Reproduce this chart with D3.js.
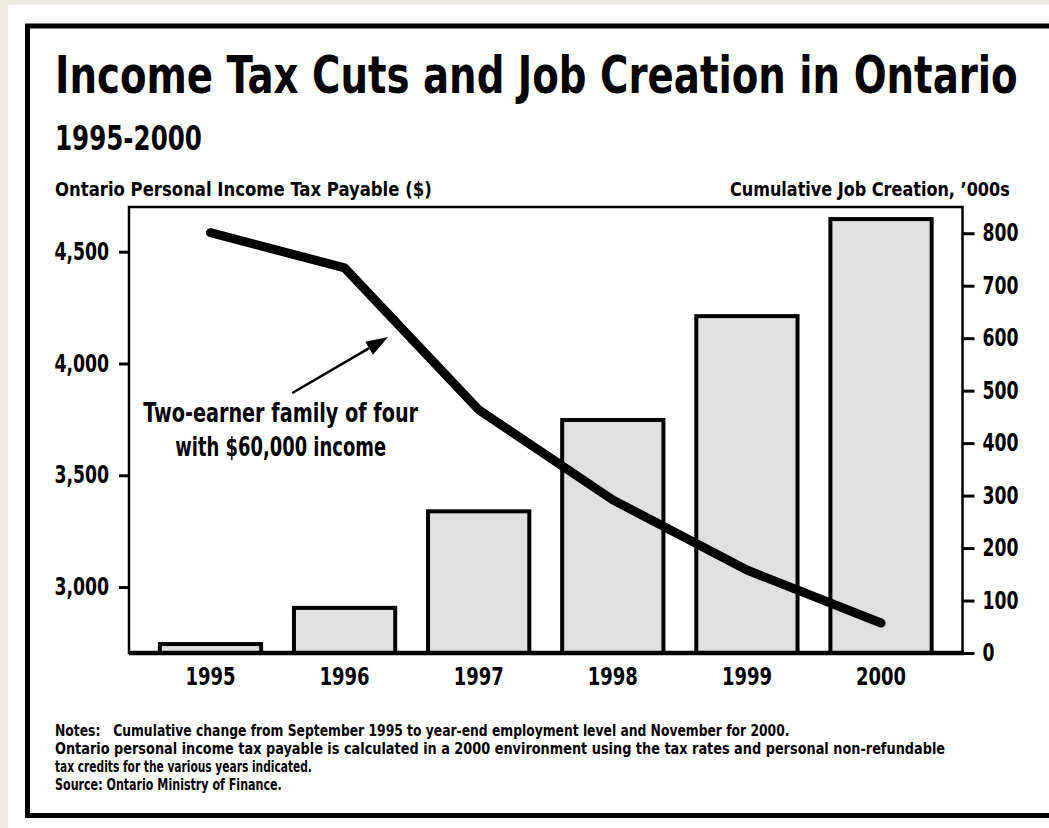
<!DOCTYPE html>
<html>
<head>
<meta charset="utf-8">
<script src="https://cdn.jsdelivr.net/npm/d3@7"></script>
<style>
  html, body { margin: 0; padding: 0; background: #ece9e0; }
  svg { display: block; }
  text { font-family: "Liberation Sans Narrow", "DejaVu Sans Condensed", "Arial Narrow", sans-serif; font-weight: bold; fill: #000; }
</style>
</head>
<body>
<svg id="chart" width="1049" height="828"></svg>
<script>
// ---- data ----
const years = ["1995", "1996", "1997", "1998", "1999", "2000"];
const jobsCreated = [17, 86, 270, 444, 642, 827];            // cumulative job creation, '000s (right axis)
const taxPayable = [4585, 4428, 3793, 3390, 3076, 2839];      // Ontario personal income tax payable, $ (left axis)
const leftTicks = [3000, 3500, 4000, 4500];
const rightTicks = [0, 100, 200, 300, 400, 500, 600, 700, 800];
const titleText = "Income Tax Cuts and Job Creation in Ontario";
const subtitleText = "1995-2000";
const leftAxisTitle = "Ontario Personal Income Tax Payable ($)";
const rightAxisTitle = "Cumulative Job Creation, \u2019000s";
const annotationLines = ["Two-earner family of four", "with $60,000 income"];
const noteLines = [
  "Notes:   Cumulative change from September 1995 to year-end employment level and November for 2000.",
  "Ontario personal income tax payable is calculated in a 2000 environment using the tax rates and personal non-refundable",
  "tax credits for the various years indicated.",
  "Source: Ontario Ministry of Finance."
];

// ---- layout ----
const svg = d3.select("#chart");
const plot = { left: 129, right: 962.5, top: 207, bottom: 653 };

// page background and frame
svg.append("rect").attr("x", 8).attr("y", 5).attr("width", 1049).attr("height", 828).attr("fill", "#fff");
svg.append("rect").attr("x", 27.5).attr("y", 26).attr("width", 1040).attr("height", 789.5)
  .attr("fill", "none").attr("stroke", "#000").attr("stroke-width", 5);

// scales
const x = d3.scaleBand().domain(years).range([plot.left, plot.right]).paddingInner(0.245).paddingOuter(0.23);
const yL = d3.scaleLinear().domain([2705, 4700]).range([plot.bottom, plot.top]);
const yR = d3.scaleLinear().domain([0, 850]).range([plot.bottom, plot.top]);

// condensed text: draw at natural size, then squeeze horizontally to the target width
function fitText(content, px, py, size, len, anchor) {
  const t = svg.append("text").attr("x", 0).attr("y", 0).attr("font-size", size)
    .attr("text-anchor", anchor || "start").attr("xml:space", "preserve").style("white-space", "pre").text(content);
  const w = t.node().getComputedTextLength();
  t.attr("transform", `translate(${px},${py}) scale(${len / w},1)`);
  return t;
}
fitText(titleText, 55, 93, 52, 963);
fitText(subtitleText, 55, 150, 34, 147);
fitText(leftAxisTitle, 55, 196, 20, 377);
fitText(rightAxisTitle, 730, 196, 20, 280);

// bars
svg.append("g").selectAll("rect").data(years).join("rect")
  .attr("x", d => x(d))
  .attr("width", x.bandwidth())
  .attr("y", (d, i) => yR(jobsCreated[i]))
  .attr("height", (d, i) => yR(0) - yR(jobsCreated[i]))
  .attr("fill", "#e0e0e0").attr("stroke", "#000").attr("stroke-width", 4);

// plot frame
svg.append("rect").attr("x", plot.left).attr("y", plot.top)
  .attr("width", plot.right - plot.left).attr("height", plot.bottom - plot.top)
  .attr("fill", "none").attr("stroke", "#000").attr("stroke-width", 2.5);
svg.append("line").attr("x1", plot.left).attr("x2", plot.right + 1.5)
  .attr("y1", plot.bottom).attr("y2", plot.bottom).attr("stroke", "#000").attr("stroke-width", 4.5);

// line
const lineGen = d3.line().x((d, i) => x(years[i]) + x.bandwidth() / 2).y(d => yL(d));
svg.append("path").datum(taxPayable).attr("d", lineGen)
  .attr("fill", "none").attr("stroke", "#000").attr("stroke-width", 9)
  .attr("stroke-linejoin", "round").attr("stroke-linecap", "round");

// axes
const axL = svg.append("g").attr("transform", `translate(${plot.left},0)`)
  .call(d3.axisLeft(yL).tickValues(leftTicks).tickFormat(d3.format(",")).tickSize(10).tickPadding(10));
const axR = svg.append("g").attr("transform", `translate(${plot.right},0)`)
  .call(d3.axisRight(yR).tickValues(rightTicks).tickFormat(d3.format("d")).tickSize(12).tickPadding(8));
const axB = svg.append("g").attr("transform", `translate(0,${plot.bottom})`)
  .call(d3.axisBottom(x).tickSize(0).tickPadding(0));
const squeeze = 0.8;
[axL, axR, axB].forEach(a => {
  a.select(".domain").remove();
  a.selectAll("line").attr("stroke", "#000").attr("stroke-width", 3);
  a.selectAll("text").attr("font-family", null).style("font-size", "24px").attr("fill", "#000")
    .each(function () {
      const t = d3.select(this);
      const x0 = +t.attr("x") || 0;
      t.attr("x", x0 / squeeze).attr("transform", `scale(${squeeze},1)`);
    });
});
axB.selectAll("text").attr("dy", null).attr("y", 32).style("font-size", "25px");

// annotation with arrow (positioned in data coordinates)
const xAt = (i, f) => x(years[i]) + x.bandwidth() / 2 + f * x.step();
const tail = [xAt(0, 0.61), yL(3868)];
const tip = [xAt(1, 0.325), yL(4118)];
const ang = Math.atan2(tip[1] - tail[1], tip[0] - tail[0]);
const headLen = 22, headHalf = 7.5;
const base = [tip[0] - headLen * Math.cos(ang), tip[1] - headLen * Math.sin(ang)];
svg.append("line").attr("x1", tail[0]).attr("y1", tail[1]).attr("x2", base[0]).attr("y2", base[1])
  .attr("stroke", "#000").attr("stroke-width", 2.5);
svg.append("path").attr("d", d3.line()([
  tip,
  [base[0] + headHalf * Math.sin(ang), base[1] - headHalf * Math.cos(ang)],
  [base[0] - headHalf * Math.sin(ang), base[1] + headHalf * Math.cos(ang)]
]) + "Z").attr("fill", "#000");

const annX = xAt(0, 0.523);
fitText(annotationLines[0], annX, yL(3738), 27, 275, "middle");
fitText(annotationLines[1], annX, yL(3586), 27, 211, "middle");

// notes
const noteLens = [735, 891, 257, 227];
noteLines.forEach((t, i) => fitText(t, 55, 736 + i * 18, 16, noteLens[i]));
</script>
</body>
</html>
